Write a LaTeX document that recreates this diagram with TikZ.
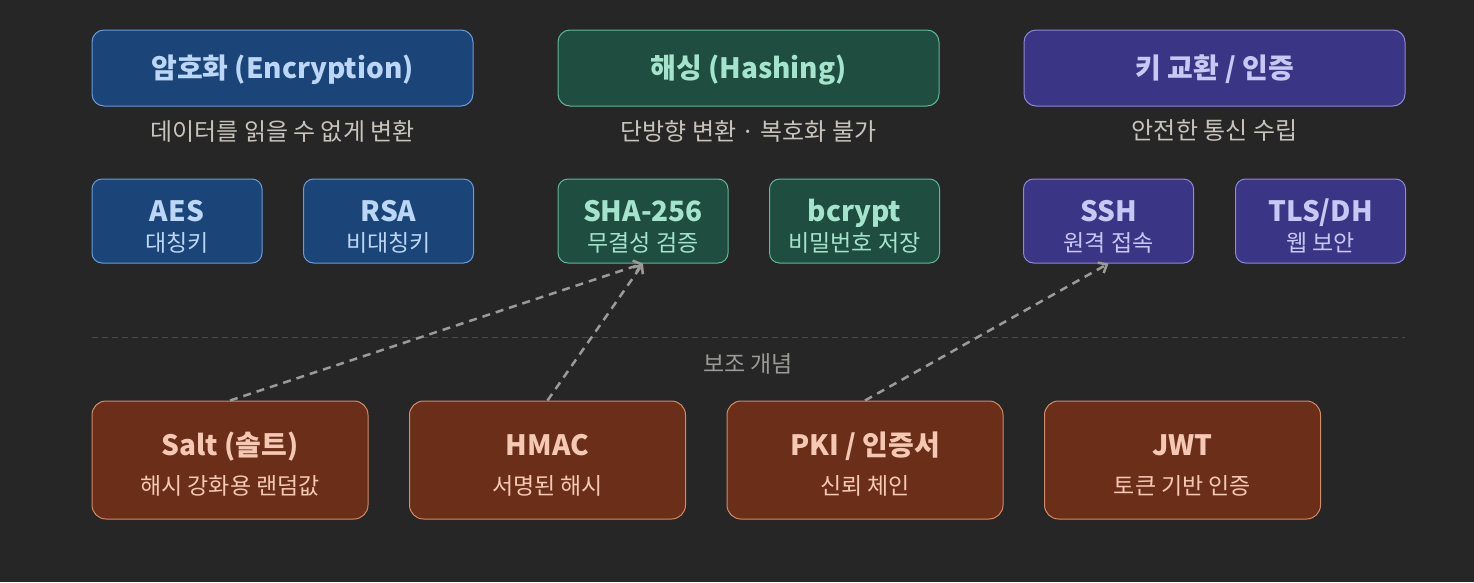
\documentclass[tikz,border=0pt]{standalone}
\usepackage{fontspec}
\setmainfont{Noto Sans CJK KR}
\usetikzlibrary{arrows.meta,positioning}

\definecolor{bg}{HTML}{262626}
\definecolor{encfill}{HTML}{1B4478}
\definecolor{encline}{HTML}{6A9BD8}
\definecolor{enctext}{HTML}{BCD6F5}
\definecolor{hashfill}{HTML}{1F4D40}
\definecolor{hashline}{HTML}{5FB89A}
\definecolor{hashtext}{HTML}{A5E4CC}
\definecolor{keyfill}{HTML}{3A3584}
\definecolor{keyline}{HTML}{8C89D8}
\definecolor{keytext}{HTML}{C8C8F5}
\definecolor{auxfill}{HTML}{6B2E18}
\definecolor{auxline}{HTML}{D38A68}
\definecolor{auxtext}{HTML}{F5C8B4}
\definecolor{subtext}{HTML}{C8C4BC}
\definecolor{sepline}{HTML}{4A4A4A}
\definecolor{linkgray}{HTML}{9A9A96}

\newcommand\subtxt{\fontsize{23}{26}\selectfont\mdseries}
\newcommand\lift[1]{\rule{0pt}{#1}}

\begin{document}
\begin{tikzpicture}[
  x=1pt,y=-1pt,
  head/.style={rectangle,draw,line width=1pt,rounded corners=12pt,align=center,
    minimum width=381pt,minimum height=76pt,inner sep=0pt,text height=23pt,text depth=2pt,
    font=\fontsize{28}{32}\selectfont\bfseries},
  algo/.style={rectangle,draw,line width=1pt,rounded corners=10pt,align=center,
    minimum width=170pt,minimum height=84pt,inner sep=0pt,
    font=\fontsize{28}{30}\selectfont\bfseries},
  aux/.style={rectangle,draw,line width=1pt,rounded corners=14pt,align=center,
    minimum width=276pt,minimum height=118pt,inner sep=0pt,
    font=\fontsize{28}{39}\selectfont\bfseries},
  enc/.style={fill=encfill,draw=encline,text=enctext},
  hash/.style={fill=hashfill,draw=hashline,text=hashtext},
  keyx/.style={fill=keyfill,draw=keyline,text=keytext},
  auxc/.style={fill=auxfill,draw=auxline,text=auxtext},
  note/.style={text=subtext,font=\fontsize{24}{28}\selectfont},
  link/.style={-{Straight Barb[length=7pt,width=12pt]},linkgray,line width=2.5pt,dash pattern=on 8pt off 6pt}
]
\fill[bg] (0,0) rectangle (1474,582);
\useasboundingbox (0,0) rectangle (1474,582);

% category headers
\node[head,enc] (enc) at (282.5,68) {암호화 (Encryption)};
\node[head,hash] (hash) at (748.5,68) {해싱 (Hashing)};
\node[head,keyx] (kex) at (1214.5,68) {키 교환 / 인증};
\node[note] (encnote) at (282.5,131) {데이터를 읽을 수 없게 변환};
\node[note] (hashnote) at (748.5,131) {단방향 변환 · 복호화 불가};
\node[note] (kexnote) at (1214.5,131) {안전한 통신 수립};

% algorithms
\node[algo,enc] (aes) at (177,221) {\lift{33pt}AES\\{\subtxt 대칭키}};
\node[algo,enc] (rsa) at (388.5,221) {\lift{33pt}RSA\\{\subtxt 비대칭키}};
\node[algo,hash] (sha) at (643,221) {\lift{33pt}SHA-256\\{\subtxt 무결성 검증}};
\node[algo,hash] (bcrypt) at (854.5,221) {\lift{33pt}bcrypt\\{\subtxt 비밀번호 저장}};
\node[algo,keyx] (ssh) at (1108.5,221) {\lift{33pt}SSH\\{\subtxt 원격 접속}};
\node[algo,keyx] (tls) at (1320.5,221) {\lift{33pt}TLS/DH\\{\subtxt 웹 보안}};

% separator
\coordinate (sepL) at (92,337);
\coordinate (sepR) at (1405,337);
\draw[sepline,line width=0.8pt,dash pattern=on 6pt off 4pt] (sepL) -- (sepR);
\node[note,text=linkgray,font=\fontsize{23}{26}\selectfont] (auxlabel) at (748,364) {보조 개념};

% supporting concepts
\node[aux,auxc] (salt) at (230,460) {\lift{31pt}Salt (솔트)\\{\subtxt 해시 강화용 랜덤값}};
\node[aux,auxc] (hmac) at (547.5,460) {\lift{31pt}HMAC\\{\subtxt 서명된 해시}};
\node[aux,auxc] (pki) at (865,460) {\lift{31pt}PKI / 인증서\\{\subtxt 신뢰 체인}};
\node[aux,auxc] (jwt) at (1182.5,460) {\lift{31pt}JWT\\{\subtxt 토큰 기반 인증}};

\draw[link] (salt.north) -- (sha.south);
\draw[link] (hmac.north) -- (sha.south);
\draw[link] (pki.north) -- (ssh.south);
\end{tikzpicture}
\end{document}
